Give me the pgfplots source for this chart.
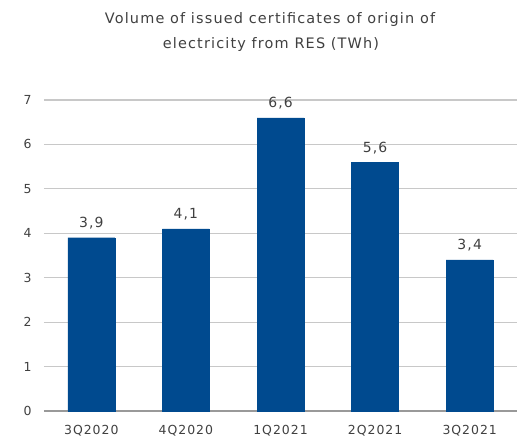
\documentclass[border=0pt]{standalone}
\usepackage{pgfplots}
\pgfplotsset{compat=1.18}
\usepackage{fontspec}
\setmainfont{DejaVu Sans}
\newfontfamily\wide[LetterSpace=8]{DejaVu Sans}
\definecolor{barblue}{RGB}{0,74,143}
\definecolor{txtgray}{RGB}{64,64,64}
\definecolor{gridgray}{RGB}{200,200,200}
\begin{document}
\begin{tikzpicture}
\path[use as bounding box] (0,0) rectangle (517bp,439bp);
\node[font=\wide\fontsize{14.5}{16}\selectfont, text=txtgray] at (270bp,419bp) {Volume of issued certificates of origin of};
\node[font=\wide\fontsize{14.5}{16}\selectfont, text=txtgray] at (271bp,394bp) {electricity from RES (TWh)};
\begin{axis}[
  at={(44bp,28bp)}, anchor=south west,
  scale only axis, width=473bp, height=311bp,
  xmin=-0.5, xmax=4.5, ymin=0, ymax=7,
  xtick=data, xticklabels={3Q2020,4Q2020,1Q2021,2Q2021,3Q2021},
  ytick={0,1,...,7},
  ymajorgrids, grid style={gridgray, line width=1.2bp},
  axis x line=bottom, axis y line=left,
  x axis line style={draw=gray!80, line width=1.5bp, -},
  y axis line style={draw=none},
  major tick length=0,
  tick label style={font=\wide\fontsize{12.5}{14}\selectfont, text=txtgray},
  /pgf/number format/assume math mode=true,
  yticklabel style={xshift=-9bp},
  xticklabel style={yshift=-11bp},
  ybar, bar width=47bp,
  nodes near coords,
  nodes near coords style={font=\wide\fontsize{14}{16}\selectfont, text=txtgray, yshift=5bp,
    /pgf/number format/.cd, fixed, fixed zerofill, precision=1, use comma, assume math mode=true},
  clip=false,
]
\addplot[fill=barblue, draw=barblue] coordinates {(0,3.9) (1,4.1) (2,6.6) (3,5.6) (4,3.4)};
\end{axis}
\end{tikzpicture}
\end{document}
